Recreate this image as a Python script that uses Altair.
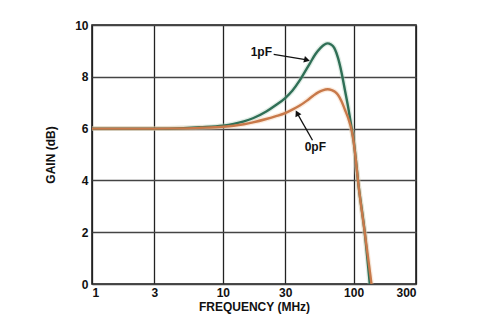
import altair as alt
import pandas as pd

# ---- data ----
freq_1pf = [1, 2, 3, 5, 6.7, 10, 12.1, 14.5, 17, 21.5, 25.5, 30, 34, 38.5, 42.5, 46.5, 51, 55.9, 60, 63.3, 67, 71.1, 76.1, 81, 86.1, 91.8, 96, 100, 104, 108, 121.6, 133]
gain_1pf = [6.0, 6.0, 6.0, 6.02, 6.05, 6.11, 6.18, 6.28, 6.4, 6.66, 6.91, 7.18, 7.46, 7.84, 8.2, 8.53, 8.87, 9.12, 9.25, 9.29, 9.25, 9.12, 8.72, 8.15, 7.45, 6.7, 6.1, 5.55, 4.8, 4.0, 2.0, 0.0]

freq_0pf = [1, 2, 3, 5, 6.7, 10, 12.1, 14.5, 17, 21.5, 25.5, 30, 34, 38.5, 44, 49.1, 54, 58, 63.3, 68, 72, 76.1, 81, 86, 91, 96, 100, 104, 108, 121.6, 137]
gain_0pf = [6.0, 6.0, 6.0, 6.01, 6.03, 6.07, 6.11, 6.17, 6.24, 6.37, 6.48, 6.6, 6.73, 6.88, 7.08, 7.27, 7.41, 7.48, 7.52, 7.49, 7.42, 7.3, 7.05, 6.72, 6.4, 6.0, 5.5, 4.8, 4.0, 2.0, 0.0]

x_ticks = [1, 3, 10, 30, 100, 300]
y_ticks = [0, 2, 4, 6, 8, 10]

labels = ["1pF", "0pF"]
label_freq = [19.7, 51.0]
label_gain = [8.95, 5.3]
arrow_from_freq = [24.5, 48.5]
arrow_from_gain = [8.87, 5.55]
arrow_to_freq = [44.0, 37.0]
arrow_to_gain = [8.65, 6.6]
arrow_angle = [104, 333]

# ---- tables ----
df1 = pd.DataFrame({"f": freq_1pf, "g": gain_1pf})
df0 = pd.DataFrame({"f": freq_0pf, "g": gain_0pf})
ann = pd.DataFrame({
    "label": labels, "lf": label_freq, "lg": label_gain,
    "f1": arrow_from_freq, "g1": arrow_from_gain,
    "f2": arrow_to_freq, "g2": arrow_to_gain, "ang": arrow_angle,
})

FONT = "Liberation Sans"
xscale = alt.Scale(type="log", domain=[1, 300], nice=False)
yscale = alt.Scale(domain=[0, 10], nice=False, zero=False)

xaxis = alt.Axis(values=x_ticks, title="FREQUENCY (MHz)", grid=True, ticks=False,
                 labelExpr="datum.value", labelFont=FONT, labelFontWeight="bold",
                 labelFontSize=12, labelColor="#111", labelPadding=3,
                 titleFont=FONT, titleFontWeight="bold", titleFontSize=12,
                 titleColor="#111", titlePadding=3, domain=False,
                 gridColor="#222", gridWidth=1.3, gridOpacity=1)
yaxis = alt.Axis(values=y_ticks, title="GAIN (dB)", grid=True, ticks=False,
                 labelFont=FONT, labelFontWeight="bold", labelFontSize=12,
                 labelColor="#111", labelPadding=4,
                 titleFont=FONT, titleFontWeight="bold", titleFontSize=12,
                 titleColor="#111", titlePadding=17, domain=False,
                 gridColor="#444", gridWidth=1.5, gridOpacity=1)


def X(field):
    return alt.X(f"{field}:Q", scale=xscale, axis=xaxis)


def Y(field):
    return alt.Y(f"{field}:Q", scale=yscale, axis=yaxis)


def curve(df, color, glow):
    g = alt.Chart(df).mark_line(interpolate="monotone", strokeWidth=5, color=glow,
                                opacity=0.35, clip=True).encode(x=X("f"), y=Y("g"))
    l = alt.Chart(df).mark_line(interpolate="monotone", strokeWidth=2.4, color=color,
                                clip=True).encode(x=X("f"), y=Y("g"))
    return g, l


g1, l1 = curve(df1, "#2f6f56", "#a9cbb8")
g0, l0 = curve(df0, "#c8794a", "#f3c7a0")

annbase = alt.Chart(ann)
texts = annbase.mark_text(font=FONT, fontWeight="bold", fontSize=12, color="#111").encode(
    x=X("lf"), y=Y("lg"), text="label:N")
shafts = annbase.mark_rule(color="#111", strokeWidth=1.3).encode(
    x=X("f1"), y=Y("g1"), x2="f2:Q", y2="g2:Q")
heads = annbase.mark_point(shape="triangle-up", filled=True, color="#111", opacity=1, size=45).encode(
    x=X("f2"), y=Y("g2"), angle=alt.Angle("ang:Q", scale=None))

chart = alt.layer(g1, g0, l1, l0, shafts, heads, texts).properties(
    width=324, height=259,
    autosize=alt.AutoSizeParams(type="none"),
    padding={"left": 92, "top": 25, "right": 71, "bottom": 45},
    background="white",
).configure_view(stroke="#111", strokeWidth=1.5)

chart.save("out.html", embed_options={"renderer": "svg", "actions": False})
